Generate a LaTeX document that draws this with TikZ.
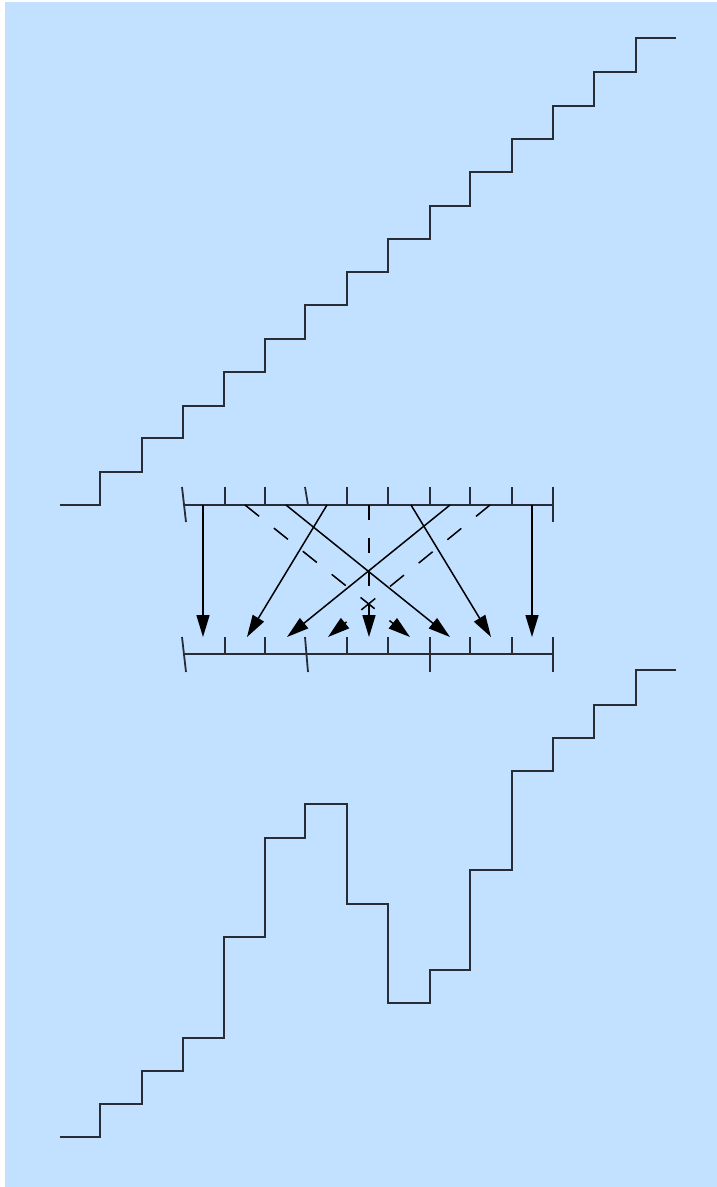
\documentclass[tikz,border=0pt]{standalone}
\usetikzlibrary{arrows.meta}
\definecolor{bg}{RGB}{194,224,255}
\definecolor{ink}{RGB}{40,44,52}
\begin{document}
\begin{tikzpicture}[x=1pt,y=-1pt,
  stair/.style={draw=ink, line width=1.9pt, line join=miter},
  tick/.style={draw=ink, line width=1.8pt},
  arr/.style={draw=black, line width=1.5pt, -{Triangle[length=22pt,width=13pt]}},
  dsh/.style={arr, dash pattern=on 18pt off 19pt},
  vdsh/.style={arr, dash pattern=on 15pt off 18pt}]
\useasboundingbox (0,0) rectangle (717,1187);
\fill[white] (0,0) rectangle (717,1187);
\fill[bg] (5,2) rectangle (717,1187);
% top staircase
\draw[stair] (60,505) -| (100,472) -| (142,438) -| (183,406) -| (224,372) -| (265,339)
  -| (305,305) -| (347,272) -| (388,239) -| (430,206) -| (470,172) -| (512,139)
  -| (553,106) -| (594,72) -| (636,38) -- (676,38);
% bottom staircase
\draw[stair] (60,1137) -| (100,1104) -| (142,1071) -| (183,1038) -| (224,937) -| (265,838)
  -| (305,804) -| (347,904) -| (388,1003) -| (430,970) -| (470,870) -| (512,771)
  -| (553,738) -| (594,705) -| (636,670) -- (676,670);
% rails
\draw[tick] (185,505) -- (553,505);
\draw[tick] (185,654) -- (553,654);
% top ticks
\draw[tick] (182,487) -- (186,522);
\foreach \x in {225,265,347,388,430,470,512} \draw[tick] (\x,487) -- (\x,505);
\draw[tick] (305,487) -- (308,505);
\draw[tick] (553,487) -- (553,522);
% bottom ticks
\draw[tick] (182,637) -- (186,672);
\foreach \x in {225,265,347,388,470,512} \draw[tick] (\x,637) -- (\x,654);
\draw[tick] (305,637) -- (308,672);
\draw[tick] (430,637) -- (430,672);
\draw[tick] (553,637) -- (553,672);
% arrow end points
\coordinate (s1) at (203,505); \coordinate (t1) at (203,637);
\coordinate (s2) at (532,505); \coordinate (t2) at (532,637);
\coordinate (s3) at (327,505); \coordinate (t3) at (247,637);
\coordinate (s4) at (411,505); \coordinate (t4) at (491,637);
\coordinate (s5) at (286,505); \coordinate (t5) at (450,637);
\coordinate (s6) at (450,505); \coordinate (t6) at (287,637);
\coordinate (d1) at (245,505); \coordinate (e1) at (410,637);
\coordinate (d2) at (490,505); \coordinate (e2) at (328,637);
\coordinate (d3) at (369,505); \coordinate (e3) at (369,637);
\draw[arr] (s1) -- (t1);
\draw[arr] (s2) -- (t2);
\draw[arr] (s3) -- (t3);
\draw[arr] (s4) -- (t4);
\draw[arr] (s5) -- (t5);
\draw[arr] (s6) -- (t6);
\draw[dsh] (d1) -- (e1);
\draw[dsh] (d2) -- (e2);
\draw[vdsh] (d3) -- (e3);
\end{tikzpicture}
\end{document}
